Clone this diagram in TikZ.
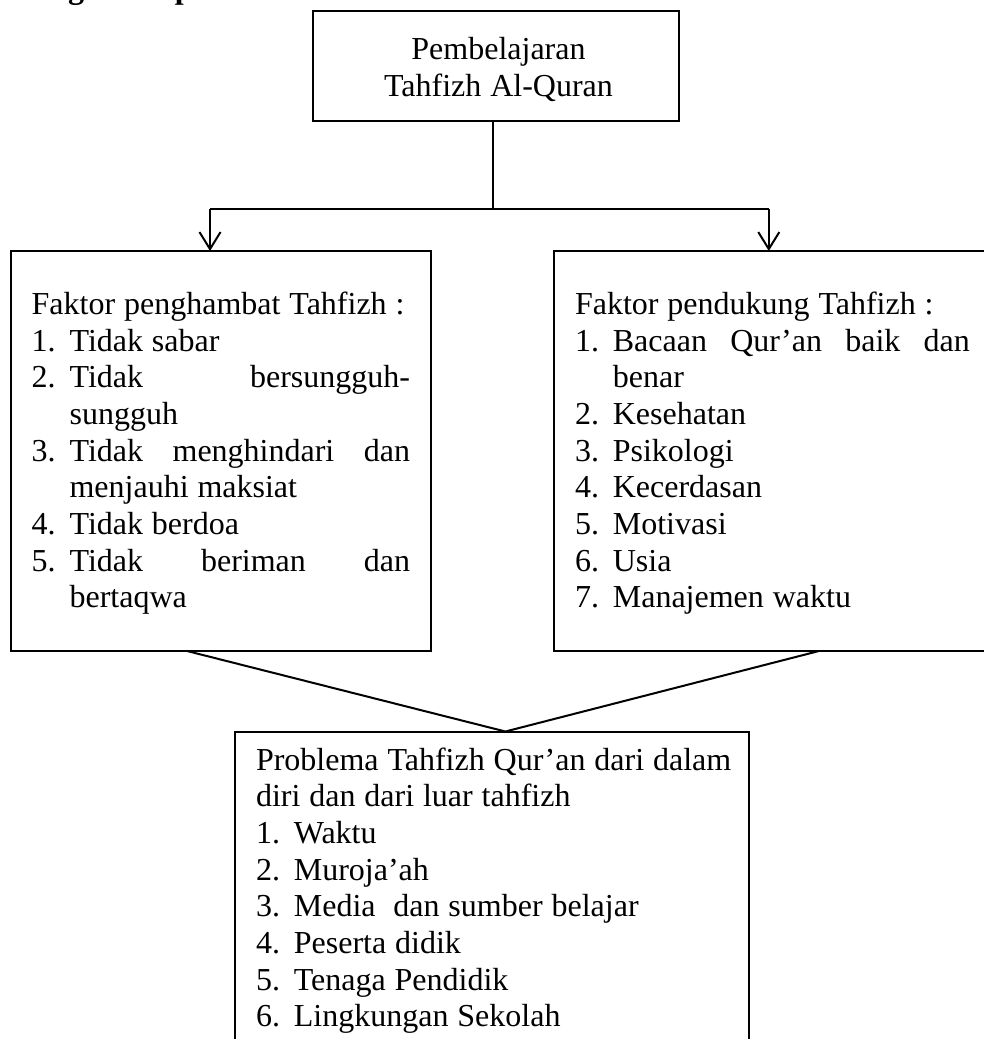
\documentclass[tikz,border=0pt]{standalone}
\usepackage{fontspec}
\setmainfont{Liberation Serif}
\usetikzlibrary{arrows.meta}
\newcommand\myline[1]{\hbox to \linewidth{#1\hfil}\par}
\newcommand\mynum[1]{\makebox[14.2pt][l]{#1}}
\newcommand\myind{\hspace*{14.2pt}}
\newcommand\myfont{\fontsize{12pt}{13.75pt}\selectfont}
\begin{document}
\begin{tikzpicture}[x=0.375pt,y=-0.375pt,line width=0.75pt,
  box/.style={draw,rectangle,inner sep=0pt,outer sep=0pt,anchor=north west},
  txt/.style={inner sep=0pt,outer sep=0pt,anchor=base west,align=left},
  arr/.style={-{Straight Barb[length=6.4pt,width=7.9pt]}}]
\useasboundingbox (0,0) rectangle (984,1039);
% heading (cut off at the top of the page)
\node[inner sep=0pt,anchor=base west,font=\bfseries\fontsize{12pt}{14pt}\selectfont] (head) at (-20,-2) {Kerangka\hspace{3.75pt} Kep};
% boxes
\node[box,minimum width=137.6pt,minimum height=41.1pt] (top) at (312.5,11) {};
\node[box,minimum width=157.5pt,minimum height=150pt] (left) at (11,251) {};
\node[box,minimum width=164.4pt,minimum height=150pt] (right) at (553.5,251) {};
\node[box,minimum width=192.9pt,minimum height=123.2pt] (bot) at (235,731.5) {};
% texts
\node[inner sep=0pt,outer sep=0pt,anchor=base,text width=120pt,align=center] (ttxt) at (498.5,59.3)
  {\fontsize{12pt}{13.95pt}\selectfont Pembelajaran\\Tahfizh Al-Quran\par};
\node[txt,text width=141.9pt] (ltxt) at (31.7,314.5) {\myfont
  \myline{Faktor penghambat Tahfizh :}
  \myline{\mynum{1.}Tidak sabar}
  \myline{\mynum{2.}Tidak\hfill bersungguh-}
  \myline{\myind sungguh}
  \myline{\mynum{3.}Tidak\hfill menghindari\hfill dan}
  \myline{\myind menjauhi maksiat}
  \myline{\mynum{4.}Tidak berdoa}
  \myline{\mynum{5.}Tidak\hfill beriman\hfill dan}
  \myline{\myind bertaqwa}};
\node[txt,text width=148.1pt] (rtxt) at (575,314.5) {\myfont
  \myline{Faktor pendukung Tahfizh :}
  \myline{\mynum{1.}Bacaan\hfill Qur’an\hfill baik\hfill dan}
  \myline{\myind benar}
  \myline{\mynum{2.}Kesehatan}
  \myline{\mynum{3.}Psikologi}
  \myline{\mynum{4.}Kecerdasan}
  \myline{\mynum{5.}Motivasi}
  \myline{\mynum{6.}Usia}
  \myline{\mynum{7.}Manajemen waktu}};
\node[txt,text width=185pt] (btxt) at (256,770) {\myfont
  \myline{Problema Tahfizh Qur’an dari dalam}
  \myline{diri dan dari luar tahfizh}
  \myline{\mynum{1.}Waktu}
  \myline{\mynum{2.}Muroja’ah}
  \myline{\mynum{3.}Media~ dan sumber belajar}
  \myline{\mynum{4.}Peserta didik}
  \myline{\mynum{5.}Tenaga Pendidik}
  \myline{\mynum{6.}Lingkungan Sekolah}};
% connectors
\coordinate (j) at (492.7,209.3);
\coordinate (jl) at (210,209.3);
\coordinate (jr) at (768.8,209.3);
\draw (top.south -| j) -- (j);
\draw (jl) -- (jr);
\draw[arr] (jl) -- (jl |- left.north);
\draw[arr] (jr) -- (jr |- right.north);
\draw ([xshift=66pt]left.south west) -- ([xshift=101.4pt]bot.north west) -- ([xshift=99.56pt]right.south west);
\end{tikzpicture}
\end{document}
